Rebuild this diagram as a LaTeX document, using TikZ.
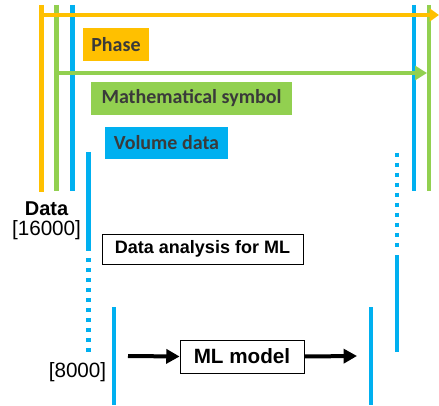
\documentclass[tikz,border=0pt]{standalone}
\usepackage{fontspec}
\setmainfont{Liberation Sans}
\newfontfamily\tagfont{Carlito}
\usetikzlibrary{arrows.meta}

\definecolor{phaseorange}{HTML}{FFC000}
\definecolor{symgreen}{HTML}{92D050}
\definecolor{volblue}{HTML}{00B0F0}
\definecolor{tagtext}{HTML}{3A3A3A}

\tikzset{
    bar/.style={line width=3.5pt},
    dotbar/.style={line width=3.5pt, dash pattern=on 3.2pt off 4.3pt},
    tag/.style={inner sep=0pt, minimum height=24.75pt, text=tagtext,
        font=\tagfont\bfseries\fontsize{15}{15}\selectfont},
    stepbox/.style={draw, line width=0.6pt, fill=white, inner sep=0pt,
        font=\bfseries\fontsize{13.5}{13.5}\selectfont},
    flow/.style={line width=3pt, -{Triangle[length=10pt,width=10.5pt]}},
}

\begin{document}
\begin{tikzpicture}[x=0.75pt,y=-0.75pt]
    \useasboundingbox (0,0) rectangle (439,406);
    % Volume data: outer blue bars
    \coordinate (vtopl) at (72.5,5);
    \coordinate (vbotl) at (72.5,191);
    \coordinate (vtopr) at (414,5);
    \coordinate (vbotr) at (414,191);
    \draw[bar,volblue] (vtopl) -- (vbotl);
    \draw[bar,volblue] (vtopr) -- (vbotr);
    % Mathematical symbol: green bars and arrow
    \coordinate (mtopl) at (56.5,5);
    \coordinate (mbotl) at (56.5,191);
    \coordinate (mtopr) at (429,5);
    \coordinate (mbotr) at (429,191);
    \coordinate (mend) at (427,73);
    \draw[bar,symgreen] (mtopl) -- (mbotl);
    \draw[bar,symgreen] (mtopr) -- (mbotr);
    \draw[bar,symgreen,-{Triangle[length=9pt,width=10.5pt]}] (mtopl |- mend) -- (mend);
    % Phase: orange bar and arrow
    \coordinate (ptop) at (41.5,5);
    \coordinate (pbot) at (41.5,192);
    \coordinate (pend) at (439,15);
    \draw[bar,phaseorange] (ptop) -- (pbot);
    \draw[line width=3pt,phaseorange,-{Triangle[length=7pt,width=9.5pt]}] (ptop |- pend) -- (pend);

    % labels of the three layers
    \node[tag, fill=phaseorange, minimum width=49.5pt] (phase) at (116,44.5) {Phase};
    \node[tag, fill=symgreen, minimum width=150.75pt] (symbol) at (191.5,98.5) {Mathematical symbol};
    \node[tag, fill=volblue, minimum width=92.25pt, minimum height=24pt] (volume) at (166.5,143) {Volume data};

    % Data analysis: inner bars, solid then dotted
    \coordinate (atopl) at (88.5,152);
    \coordinate (amidl) at (88.5,251);
    \coordinate (adotl) at (88.5,258);
    \coordinate (abotl) at (88.5,354);
    \coordinate (atopr) at (397,153);
    \coordinate (amidr) at (397,247);
    \coordinate (asolr) at (397,255);
    \coordinate (abotr) at (397,352);
    \draw[bar,volblue] (atopl) -- (amidl);
    \draw[dotbar,volblue] (adotl) -- (abotl);
    \draw[dotbar,volblue] (atopr) -- (amidr);
    \draw[bar,volblue] (asolr) -- (abotr);
    \node[stepbox, minimum width=150.75pt, minimum height=22.5pt] (analysis) at (202.5,249) {Data analysis for ML};

    % ML model between the innermost bars
    \coordinate (itopl) at (114,307);
    \coordinate (ibotl) at (114,405);
    \coordinate (itopr) at (371,307);
    \coordinate (ibotr) at (371,405);
    \draw[bar,volblue] (itopl) -- (ibotl);
    \draw[bar,volblue] (itopr) -- (ibotr);
    \node[stepbox, minimum width=93pt, minimum height=24.75pt,
        font=\bfseries\fontsize{15.5}{15.5}\selectfont] (model) at (242,356.5) {ML model};
    \coordinate (inl) at (128,356);
    \coordinate (outr) at (357,356);
    \draw[flow] (inl) -- (model.west);
    \draw[flow] (model.east) -- (outr);

    % data sizes
    \node[font=\bfseries\fontsize{15}{15}\selectfont] (data) at (46.5,209) {Data};
    \node[font=\fontsize{15.5}{15.5}\selectfont] (full) at (46.5,230) {[16000]};
    \node[font=\fontsize{15.5}{15.5}\selectfont] (half) at (77.5,372) {[8000]};
\end{tikzpicture}
\end{document}
